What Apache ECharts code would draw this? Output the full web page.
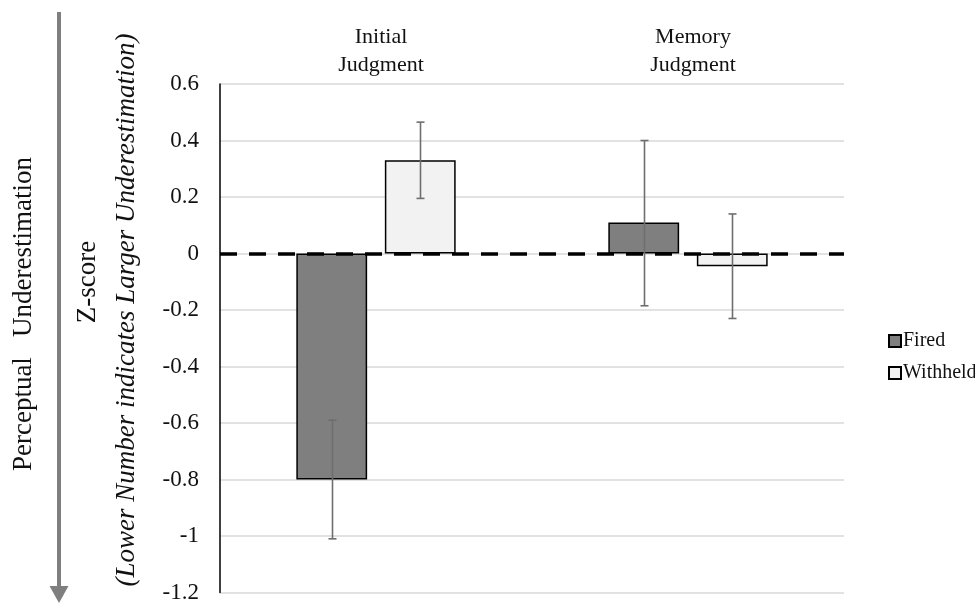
<!DOCTYPE html>
<html>
<head>
<meta charset="utf-8">
<script src="https://cdn.jsdelivr.net/npm/echarts@6/dist/echarts.min.js"></script>
<style>
html,body{margin:0;padding:0;background:#fff;}
#chart{width:975px;height:604px;}
</style>
</head>
<body>
<div id="chart"></div>
<script>
// ---- data ----
const categories = ['Initial\nJudgment', 'Memory\nJudgment'];
const seriesNames = ['Fired', 'Withheld'];
const firedValues = [-0.80, 0.11];
const withheldValues = [0.33, -0.045];
const firedErrLow = [-1.01, -0.185];
const firedErrHigh = [-0.59, 0.40];
const withheldErrLow = [0.195, -0.23];
const withheldErrHigh = [0.465, 0.14];
const yTicks = { min: -1.2, max: 0.6, interval: 0.2 };

// ---- style ----
const FONT = '"Liberation Serif", "Times New Roman", serif';
const BAR_W = 0.227;   // fraction of band
const BAR_GAP = 0.25;  // fraction of bar width

function errSeries(lows, highs, sign) {
  return {
    type: 'custom',
    z: 5,
    silent: true,
    data: lows.map((lo, i) => [i, lo, highs[i]]),
    encode: { x: 0, y: [1, 2] },
    renderItem: function (params, api) {
      const i = api.value(0);
      const band = api.size([1, 0])[0];
      const barW = band * BAR_W;
      const off = sign * (barW + barW * BAR_GAP) / 2;
      const top = api.coord([i, api.value(2)]);
      const bot = api.coord([i, api.value(1)]);
      const x = Math.round(top[0] + off) + 0.5;
      const cap = 4;
      const st = { stroke: '#6e6e6e', lineWidth: 1.6 };
      return {
        type: 'group',
        children: [
          { type: 'line', shape: { x1: x, y1: top[1], x2: x, y2: bot[1] }, style: st },
          { type: 'line', shape: { x1: x - cap, y1: top[1], x2: x + cap, y2: top[1] }, style: st },
          { type: 'line', shape: { x1: x - cap, y1: bot[1], x2: x + cap, y2: bot[1] }, style: st }
        ]
      };
    }
  };
}

const chart = echarts.init(document.getElementById('chart'), null, { renderer: 'canvas' });
chart.setOption({
  backgroundColor: '#ffffff',
  animation: false,
  textStyle: { fontFamily: FONT },
  grid: { left: 220, right: 131, top: 84, bottom: 9, containLabel: false },
  legend: {
    orient: 'vertical',
    left: 883,
    top: 326,
    itemWidth: 12,
    itemHeight: 12,
    itemGap: 12,
    icon: 'rect',
    textStyle: { fontFamily: FONT, fontSize: 20, color: '#111', padding: [0, 0, 0, -3] },
    data: seriesNames
  },
  xAxis: {
    type: 'category',
    position: 'top',
    data: categories,
    axisLine: { show: false, onZero: false },
    axisTick: { show: false },
    axisLabel: {
      fontFamily: FONT, fontSize: 22, color: '#111', lineHeight: 28, margin: 5,
      padding: [0, 0, 0, 10]
    },
    splitLine: { show: false }
  },
  yAxis: {
    type: 'value',
    min: yTicks.min,
    max: yTicks.max,
    interval: yTicks.interval,
    axisLine: { show: true, lineStyle: { color: '#000', width: 1.5 } },
    axisTick: { show: false },
    axisLabel: {
      fontFamily: FONT, fontSize: 23, color: '#111', margin: 21,
      formatter: v => String(parseFloat(v.toFixed(1)))
    },
    splitLine: { show: true, lineStyle: { color: '#d9d9d9', width: 1.5 } }
  },
  series: [
    {
      name: seriesNames[0],
      type: 'bar',
      data: firedValues,
      barWidth: (BAR_W * 100) + '%',
      barGap: (BAR_GAP * 100) + '%',
      itemStyle: { color: '#7f7f7f', borderColor: '#000', borderWidth: 1.5 },
      z: 2,
      markLine: {
        silent: true,
        symbol: 'none',
        label: { show: false },
        lineStyle: { color: '#000', width: 3.5, type: [17, 12] },
        data: [{ yAxis: 0 }],
        z: 10
      }
    },
    {
      name: seriesNames[1],
      type: 'bar',
      data: withheldValues,
      barWidth: (BAR_W * 100) + '%',
      barGap: (BAR_GAP * 100) + '%',
      itemStyle: { color: '#f2f2f2', borderColor: '#000', borderWidth: 1.5 },
      z: 2
    },
    errSeries(firedErrLow, firedErrHigh, -1),
    errSeries(withheldErrLow, withheldErrHigh, 1)
  ],
  graphic: [
    {
      type: 'text', x: 24, y: 314, rotation: Math.PI / 2, z: 10,
      style: { text: 'Perceptual   Underestimation', font: '27px ' + FONT, fill: '#111', align: 'center', verticalAlign: 'middle' }
    },
    {
      type: 'text', x: 88, y: 282, rotation: Math.PI / 2, z: 10,
      style: { text: 'Z-score', font: '27px ' + FONT, fill: '#111', align: 'center', verticalAlign: 'middle' }
    },
    {
      type: 'text', x: 127, y: 310, rotation: Math.PI / 2, z: 10,
      style: { text: '(Lower Number indicates Larger Underestimation)', font: 'italic 27px ' + FONT, fill: '#111', align: 'center', verticalAlign: 'middle' }
    },
    {
      type: 'line', z: 10,
      shape: { x1: 59, y1: 12, x2: 59, y2: 590 },
      style: { stroke: '#7f7f7f', lineWidth: 4 }
    },
    {
      type: 'polygon', z: 10,
      shape: { points: [[49.5, 586], [68.5, 586], [59, 603]] },
      style: { fill: '#7f7f7f' }
    }
  ]
});
</script>
</body>
</html>
